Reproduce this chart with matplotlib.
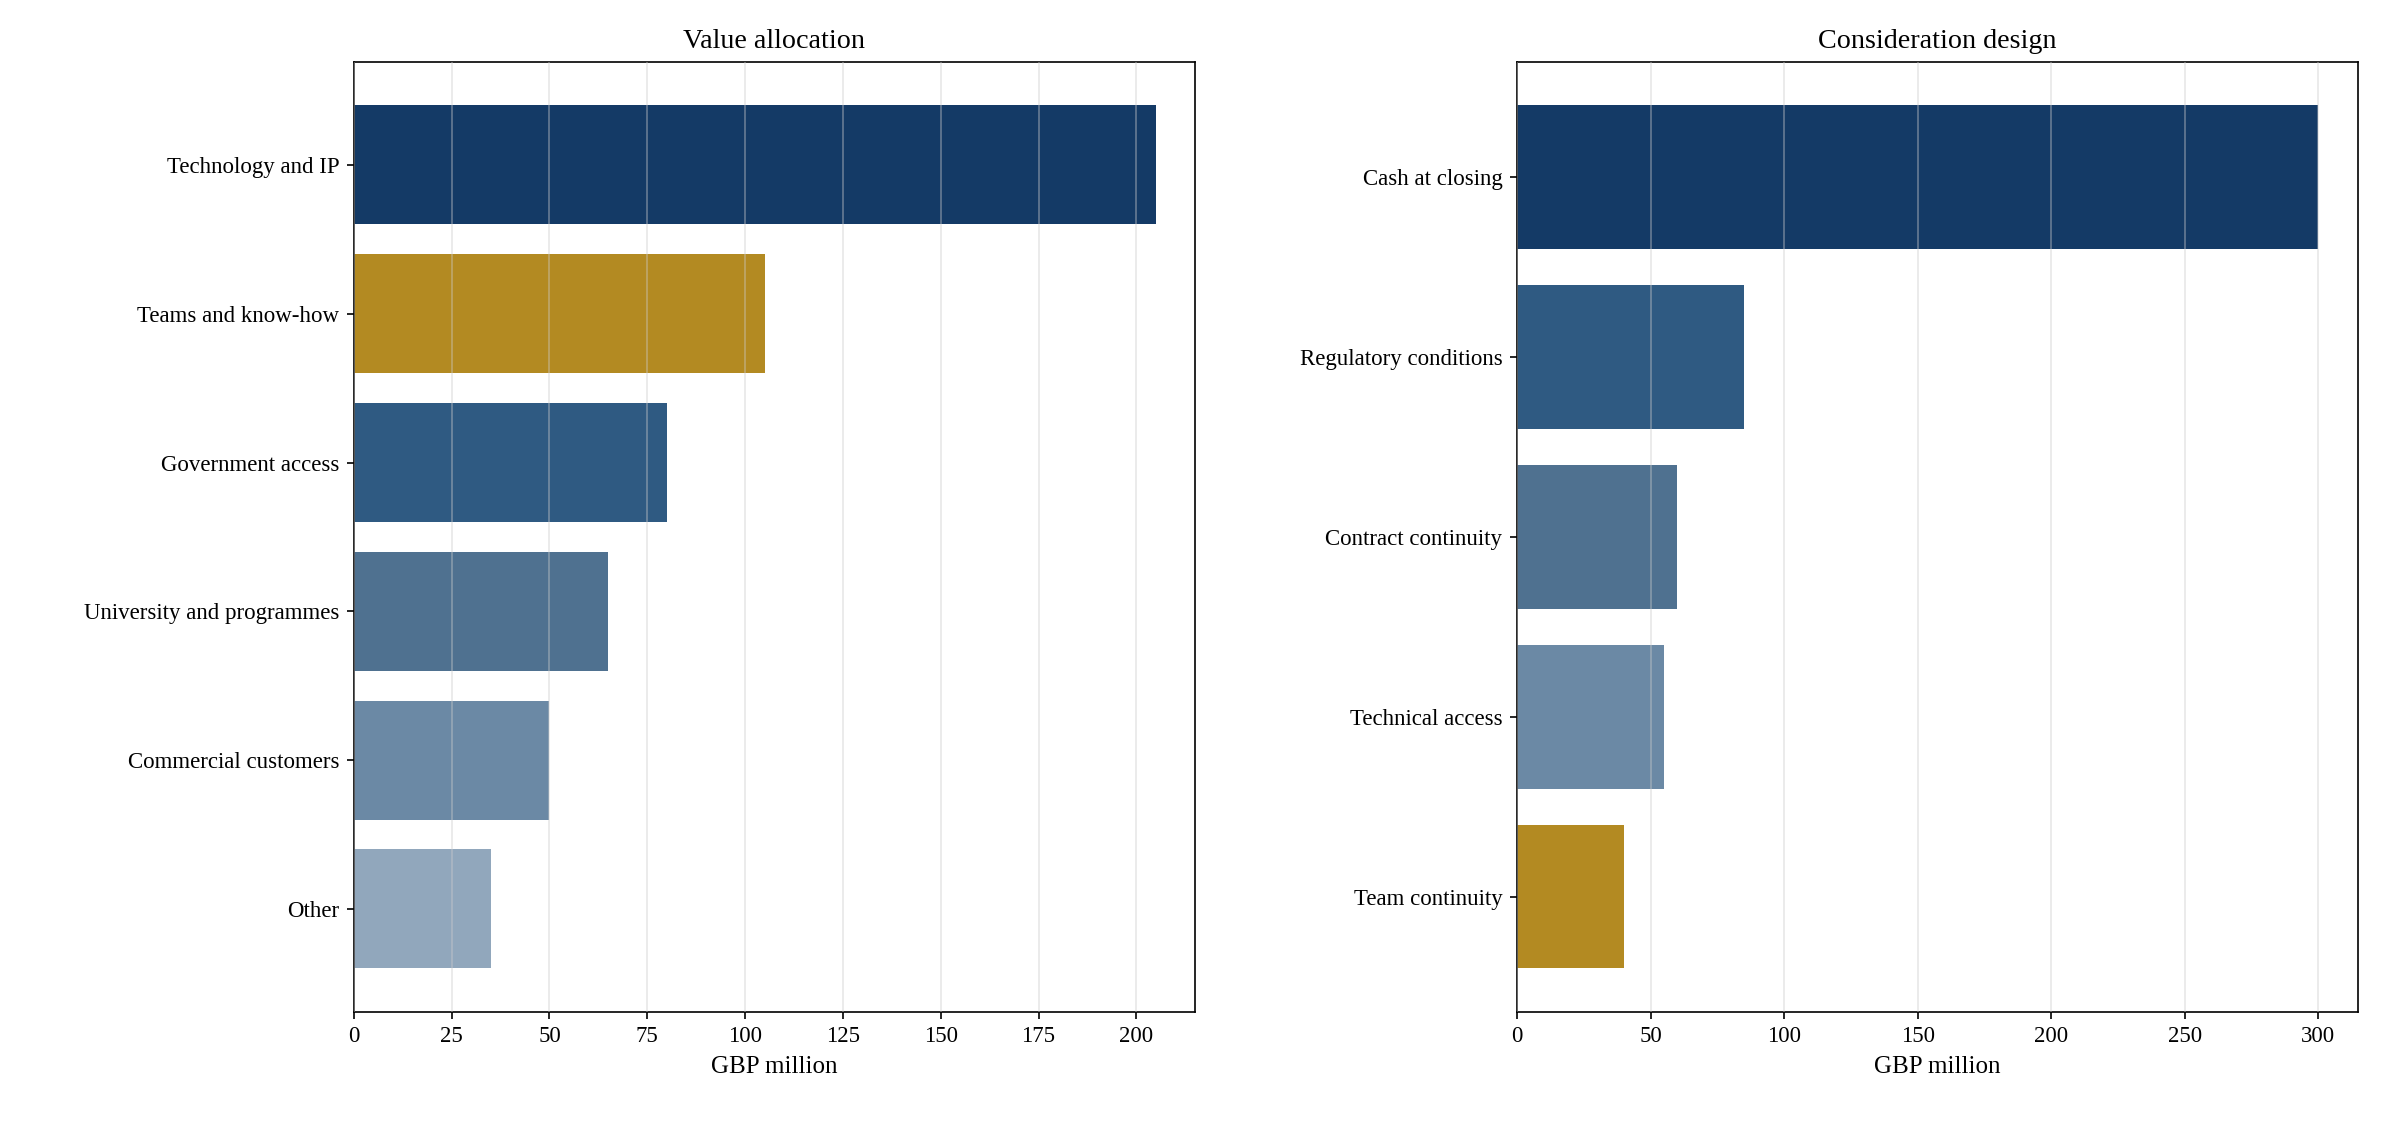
import matplotlib
matplotlib.use("Agg")
import matplotlib.pyplot as plt

plt.rcParams['font.family'] = ['Liberation Serif', 'DejaVu Serif']

left_cats = ["Technology and IP", "Teams and know-how", "Government access",
             "University and programmes", "Commercial customers", "Other"]
left_vals = [205, 105, 80, 65, 50, 35]
left_colors = ["#143a66", "#b38a22", "#2f5a82", "#4f7190", "#6b89a5", "#91a7bc"]

right_cats = ["Cash at closing", "Regulatory conditions", "Contract continuity",
              "Technical access", "Team continuity"]
right_vals = [300, 85, 60, 55, 40]
right_colors = ["#143a66", "#2f5a82", "#4f7190", "#6b89a5", "#b38a22"]

fig, (ax1, ax2) = plt.subplots(1, 2, figsize=(2381/150, 1121/150), dpi=150)

for ax, cats, vals, cols, title, xmax, ticks in [
        (ax1, left_cats, left_vals, left_colors, "Value allocation", 215, range(0, 201, 25)),
        (ax2, right_cats, right_vals, right_colors, "Consideration design", 315, range(0, 301, 50))]:
    y = list(range(len(cats)))
    ax.barh(y, vals, color=cols, height=0.8)
    ax.set_yticks(y)
    ax.set_yticklabels(cats, fontsize=11)
    ax.invert_yaxis()
    ax.set_xlim(0, xmax)
    ax.set_xticks(list(ticks))
    ax.tick_params(axis='x', labelsize=11)
    ax.set_xlabel("GBP million", fontsize=12)
    ax.set_title(title, fontsize=13.5, pad=7)
    ax.grid(axis='x', color='#cccccc', alpha=0.45, linewidth=0.8)
    ax.set_axisbelow(False)

W, H = 1568, 738
ax1.set_position([233/W, 1-666/H, (787-233)/W, (666-41)/H])
ax2.set_position([999/W, 1-666/H, (1553-999)/W, (666-41)/H])

fig.savefig("out.png", dpi=150)
